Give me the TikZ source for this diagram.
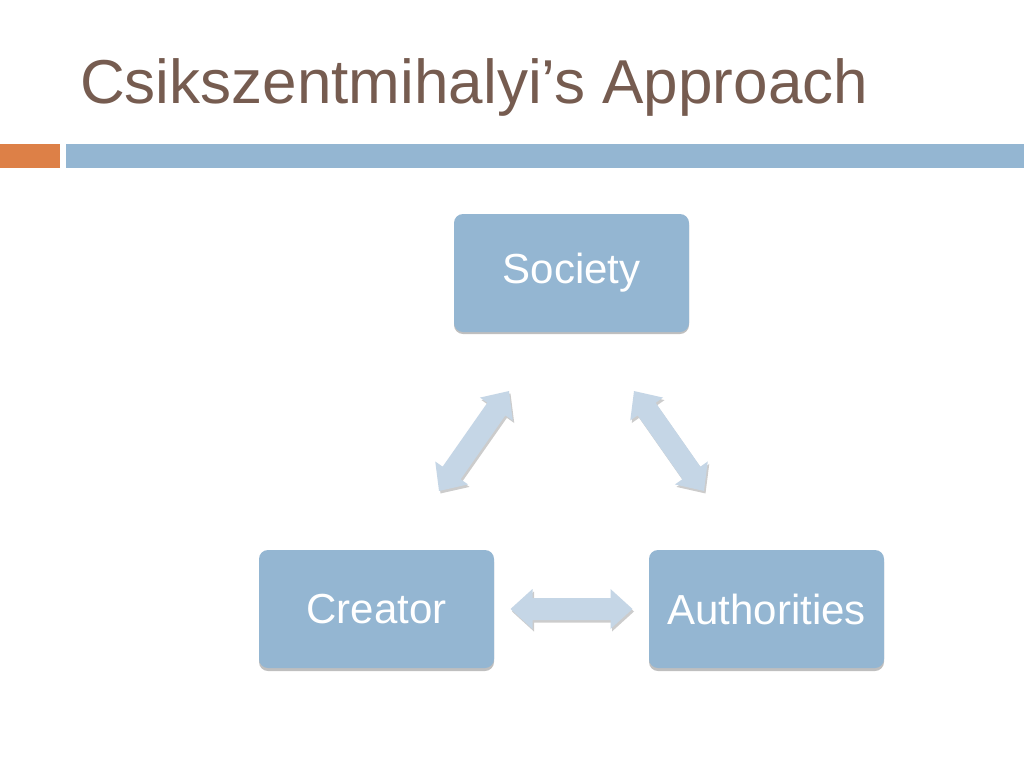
\documentclass[tikz,border=0pt]{standalone}
\usepackage{fontspec}
\setmainfont{Liberation Sans}
\usetikzlibrary{calc}
\definecolor{titlecol}{RGB}{118,92,80}
\definecolor{orangebar}{RGB}{221,128,71}
\definecolor{bluebar}{RGB}{148,182,210}
\definecolor{boxfill}{RGB}{148,182,210}
\definecolor{arrowfill}{RGB}{197,214,230}
\tikzset{
  box/.style={rounded corners=9pt, fill=boxfill, minimum width=235pt, minimum height=118pt,
    inner sep=0pt, text=white, font=\fontsize{42}{50}\selectfont},
  boxshadow/.style={rounded corners=9pt, fill=black, opacity=0.25, minimum width=235pt, minimum height=118pt, inner sep=0pt},
  dblarrow/.pic={
    \fill[pic actions] (-61,0) -- (-39,20) -- (-39,11) -- (39,11) -- (39,20) -- (61,0)
      -- (39,-20) -- (39,-11) -- (-39,-11) -- (-39,-20) -- cycle;
  },
  arrowshadow/.style={fill=black, opacity=0.2},
  arrowbody/.style={fill=arrowfill},
}
\begin{document}
\begin{tikzpicture}[x=1pt,y=-1pt]
\useasboundingbox (0,0) rectangle (1024,768);
\fill[white] (0,0) rectangle (1024,768);
% title
\node[anchor=base west, inner sep=0pt, text=titlecol, font=\fontsize{62}{70}\selectfont] (title) at (80,103) {Csikszentmihalyi’s Approach};
% bars
\fill[orangebar] (0,144) rectangle (60,168);
\fill[bluebar] (66,144) rectangle (1024,168);
% box shadows
\node[boxshadow] at (571.5,275) {};
\node[boxshadow] at (376.5,612) {};
\node[boxshadow] at (766.5,612) {};
% boxes
\node[box] (soc) at (571.5,273) {Society};
\node[box] (cre) at (376.5,609) {Creator};
\node[box] (aut) at (766.5,609) {Authorities};
% arrow anchor coordinates
\coordinate (h) at ($(cre.east)!0.5!(aut.west)$);
\coordinate (l) at ($(cre.north)!0.5!(soc.south)$);
\coordinate (r) at ($(aut.north)!0.5!(soc.south)$);
% arrow shadows
\pic[arrowshadow] at ($(h)+(1.5,2.5)$) {dblarrow};
\pic[arrowshadow, rotate=55] at ($(l)+(1.5,2.5)$) {dblarrow};
\pic[arrowshadow, rotate=-55] at ($(r)+(1.5,2.5)$) {dblarrow};
% arrows
\pic[arrowbody] at (h) {dblarrow};
\pic[arrowbody, rotate=55] at (l) {dblarrow};
\pic[arrowbody, rotate=-55] at (r) {dblarrow};
\end{tikzpicture}
\end{document}
